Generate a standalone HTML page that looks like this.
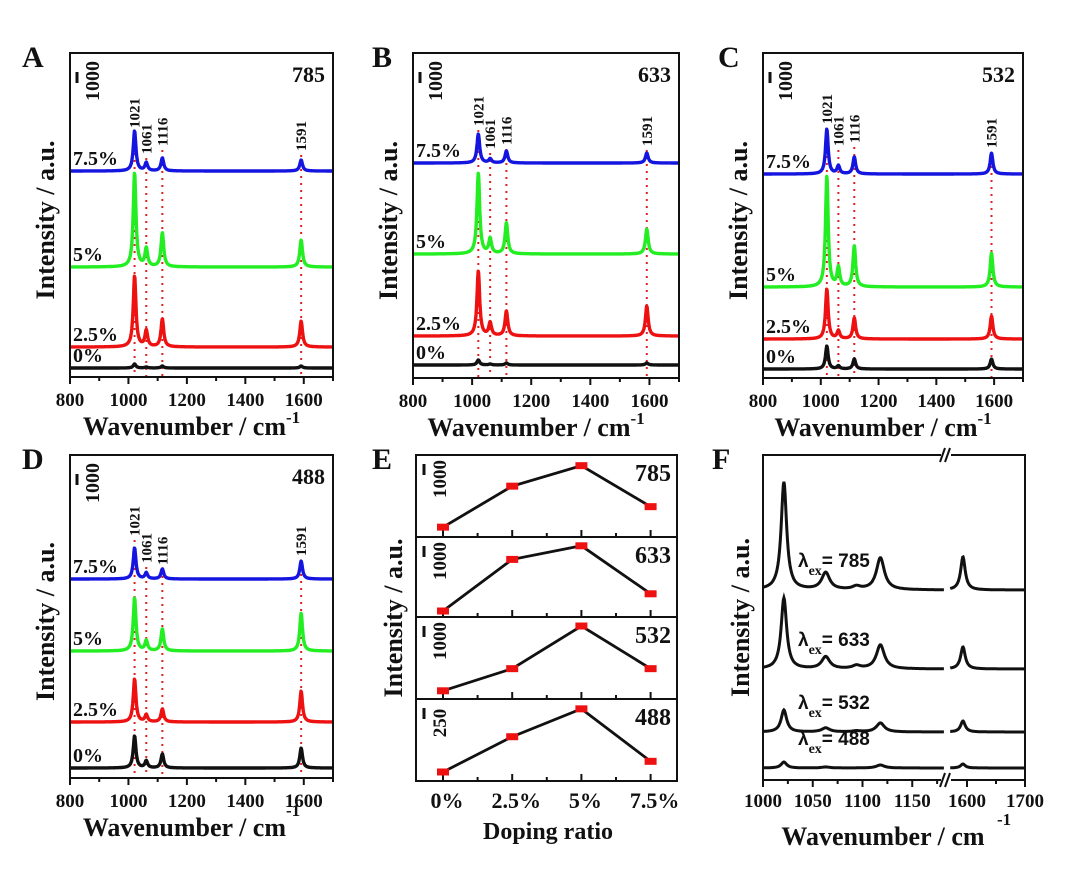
<!DOCTYPE html>
<html><head><meta charset="utf-8">
<style>
html,body{margin:0;padding:0;background:#fff;}
svg{display:block;}
text{font-family:"Liberation Serif",serif;font-weight:bold;fill:#111;}
.sans{font-family:"Liberation Sans",sans-serif;}
</style></head>
<body>
<svg id="fig" width="1080" height="885" viewBox="0 0 1080 885" xmlns="http://www.w3.org/2000/svg"></svg>
<script>
// ---------- DATA ----------
const peakPositions = [1021, 1061, 1116, 1591];
const dopingLabels = ["7.5%", "5%", "2.5%", "0%"];
const seriesColors = ["#1515e0", "#22ee22", "#ee1111", "#111111"];
// Panel A (785 nm): baselines (a.u., offset) and peak heights per doping
const baseA = [202, 106, 26, 5];
const peaksA = [[40, 8, 13, 11], [94, 18, 34, 27], [71, 16, 28, 26], [4, 1, 2, 2]];
// Panel B (633 nm)
const baseB = [211, 120, 38, 9];
const peaksB = [[29, 4, 12, 10], [81, 15, 31, 25], [65, 13, 25, 30], [5, 1, 2, 2]];
// Panel C (532 nm)
const baseC = [200, 87, 35, 5];
const peaksC = [[45, 8, 17, 21], [111, 19, 41, 34], [50, 8, 21, 23], [23, 3, 10, 10]];
// Panel D (488 nm)
const baseD = [195, 123, 52, 6];
const peaksD = [[31, 6, 10, 18], [53, 10, 22, 38], [43, 7, 13, 31], [32, 7, 14, 20]];
// Panel E: doping ratio vs intensity (relative, 0-100 per sub-panel)
const dopingCats = ["0%", "2.5%", "5%", "7.5%"];
const eLasers = ["785", "633", "532", "488"];
const eScaleLabels = ["1000", "1000", "1000", "250"];
const e785 = [12, 62, 87, 37];
const e633 = [7.5, 72, 89, 29];
const e532 = [10, 37, 89, 37];
const e488 = [11, 54, 88, 24];
// Panel F: excitation comparison, baseline + peak heights at 1021,1063,1094,1118,1593
const fPeakPos = [1021, 1063, 1094, 1118, 1593];
const fLasers = ["785", "633", "532", "488"];
const fBase = [178, 99, 36, 0];
const fPeaks = [[108, 17, 3, 32, 33], [71, 12, 3, 24, 22], [22, 4, 1, 9, 11], [6, 1, 0, 3, 4]];
const spectraTicks = [800, 1000, 1200, 1400, 1600];

// ---------- HELPERS ----------
const NS = "http://www.w3.org/2000/svg";
const svg = document.getElementById("fig");
function el(tag, attrs, parent, txt) {
  const e = document.createElementNS(NS, tag);
  for (const k in attrs) e.setAttribute(k, attrs[k]);
  if (txt !== undefined) e.textContent = txt;
  (parent || svg).appendChild(e);
  return e;
}
function lor(x, x0, h, w) { return h * w * w / ((x - x0) * (x - x0) + w * w); }

function spectraPanel(cfg) {
  const g = el("g", {});
  
  
  const {L, R, T, B} = cfg;
  const xs = v => L + (v - 800) / 900 * (R - L);
  const ys = v => B - 4 - v;
  const lt = el("text", {x: cfg.letterX, y: T + 14, "font-size": 30}, g, cfg.letter);
  
  
  peakPositions.forEach((p, i) => {
    const ln = el("line", {x1: xs(p), x2: xs(p), y1: cfg.labY[i] + 4, y2: B, stroke: "#e02020", "stroke-width": 2, "stroke-dasharray": "2 5"}, g);
    
    
    const t = el("text", {x: 0, y: 0, "font-size": 15, "font-weight": "normal", transform: `translate(${xs(p) + 5},${cfg.labY[i]}) rotate(-90)`}, g, String(p));
    
    
  });
  cfg.base.forEach((b, si) => {
    let d = "";
    for (let x = 800; x <= 1700; x += 1.5) {
      let y = b;
      peakPositions.forEach((p, k) => { y += lor(x, p, cfg.peaks[si][k], 5.5); });
      d += (d ? "L" : "M") + xs(x).toFixed(1) + "," + ys(y).toFixed(1);
    }
    const pth = el("path", {d: d, fill: "none", stroke: seriesColors[si], "stroke-width": 3.4, "stroke-linejoin": "round"}, g);
    
    
    const lb = el("text", {x: L + 3, y: ys(b) - 6, "font-size": 20, "font-weight": "normal"}, g, dopingLabels[si]);
    
    
  });
  const fr = el("rect", {x: L, y: T, width: R - L, height: B - T, fill: "none", stroke: "#111", "stroke-width": 2}, g);
  
  
  for (let v = 800; v <= 1700; v += 100) {
    el("line", {x1: xs(v), x2: xs(v), y1: B, y2: B + (v % 200 === 0 ? 7 : 4), stroke: "#111", "stroke-width": 2}, g);
  }
  spectraTicks.forEach(v => {
    const t = el("text", {x: xs(v), y: B + 29, "font-size": 19, "text-anchor": "middle"}, g, String(v));
    
    
  });
  const xt = el("text", {x: (L + R) / 2 - 10, y: B + 58, "font-size": 26, "text-anchor": "middle"}, g);
  
  
  el("tspan", {}, xt, "Wavenumber / cm");
  el("tspan", {dy: cfg.supDy, "font-size": 17}, xt, "-1");
  const yt = el("text", {x: 0, y: 0, "font-size": 26, "text-anchor": "middle", transform: `translate(${L - 16},${(T + B) / 2 + 5}) rotate(-90)`}, g, "Intensity / a.u.");
  
  
  const sb = el("line", {x1: L + 7, x2: L + 7, y1: T + 19, y2: T + 30, stroke: "#111", "stroke-width": 3}, g);
  
  
  const st = el("text", {x: 0, y: 0, "font-size": 20, "text-anchor": "middle", transform: `translate(${L + 29},${T + 28}) rotate(-90)`}, g, "1000");
  
  
  const lz = el("text", {x: R - 8, y: T + 29, "font-size": 22, "text-anchor": "end"}, g, cfg.laser);
  
  
}

spectraPanel({letter: "A", letterX: 22, L: 70, R: 333, T: 53, B: 377, base: baseA, peaks: peaksA, laser: "785", labY: [128, 154, 146, 151], supDy: -12});
spectraPanel({letter: "B", letterX: 372, L: 413, R: 679, T: 53, B: 378, base: baseB, peaks: peaksB, laser: "633", labY: [126, 149, 145, 146], supDy: -12});
spectraPanel({letter: "C", letterX: 718, L: 763, R: 1023, T: 53, B: 378, base: baseC, peaks: peaksC, laser: "532", labY: [124, 146, 143, 148], supDy: -12});
spectraPanel({letter: "D", letterX: 22, L: 70, R: 333, T: 455, B: 778, base: baseD, peaks: peaksD, laser: "488", labY: [536, 563, 565, 556], supDy: -20});

// ---------- PANEL E ----------
(function () {
  const g = el("g", {});
  
  
  const L = 416, R = 677, T = 455, B = 781;
  const bounds = [455, 537, 617, 699, 781];
  const xs = i => 443 + i * 69.2;
  const series = [e785, e633, e532, e488];
  el("text", {x: 372, y: T + 14, "font-size": 30}, g, "E");
  series.forEach((vals, si) => {
    const top = bounds[si], bot = bounds[si + 1];
    const ys = v => bot - v / 100 * (bot - top);
    const fr = el("rect", {x: L, y: top, width: R - L, height: bot - top, fill: "none", stroke: "#111", "stroke-width": 2}, g);
    
    
    for (let k = 0; k < 7; k++) {
      const x = 443 + k * 34.6;
      el("line", {x1: x, x2: x, y1: bot, y2: bot - (k % 2 === 0 ? 7 : 4), stroke: "#111", "stroke-width": 2}, g);
    }
    const pts = vals.map((v, i) => xs(i) + "," + ys(v)).join(" ");
    const pl = el("polyline", {points: pts, fill: "none", stroke: "#111", "stroke-width": 2.8}, g);
    
    
    vals.forEach((v, i) => {
      const m = el("rect", {x: xs(i) - 6, y: ys(v) - 3.5, width: 12, height: 7, fill: "#ee1111"}, g);
      
      
    });
    const lz = el("text", {x: R - 6, y: top + 26, "font-size": 24, "text-anchor": "end"}, g, eLasers[si]);
    
    
    el("line", {x1: L + 8, x2: L + 8, y1: top + 9, y2: top + 20, stroke: "#111", "stroke-width": 3}, g);
    const st = el("text", {x: 0, y: 0, "font-size": 19, "text-anchor": "middle", transform: `translate(${L + 30},${top + 24}) rotate(-90)`}, g, eScaleLabels[si]);
    
    
  });
  dopingCats.forEach((c, i) => {
    const t = el("text", {x: xs(i) + 4, y: B + 27, "font-size": 22, "text-anchor": "middle"}, g, c);
    
    
  });
  const xt = el("text", {x: 548, y: B + 58, "font-size": 24, "text-anchor": "middle"}, g, "Doping ratio");
  
  
  const yt = el("text", {x: 0, y: 0, "font-size": 26, "text-anchor": "middle", transform: `translate(402,${(T + B) / 2}) rotate(-90)`}, g, "Intensity / a.u.");
  
  
})();

// ---------- PANEL F ----------
(function () {
  const g = el("g", {});
  
  
  const L = 763, R = 1025, T = 455, B = 780;
  const xL = v => L + (v - 1000) * 0.995;
  const xR = v => 967 + (v - 1600) * 0.58;
  const ys = v => 768 - v;
  el("text", {x: 712, y: T + 14, "font-size": 30}, g, "F");
  fBase.forEach((b, si) => {
    const segs = [[1000, 1182, xL], [1571, 1700, xR]];
    segs.forEach(([a, z, f]) => {
      let d = "";
      for (let x = a; x <= z; x += 0.6) {
        let y = b;
        fPeakPos.forEach((p, k) => { y += lor(x, p, fPeaks[si][k], k === 0 ? 3.3 : 4.8); });
        d += (d ? "L" : "M") + f(x).toFixed(1) + "," + ys(y).toFixed(1);
      }
      const pth = el("path", {d: d, fill: "none", stroke: "#111", "stroke-width": 3}, g);
      
      
    });
    const lbl = el("text", {x: 798, y: ys(b) - 23, "font-size": 19, "class": "sans"}, g);
    
    
    el("tspan", {"class": "sans"}, lbl, "λ");
    el("tspan", {dy: 8, "font-size": 14, style: "font-family:'Liberation Serif',serif"}, lbl, "ex");
    el("tspan", {dy: -8, "class": "sans"}, lbl, "= " + fLasers[si]);
  });
  const fr = el("rect", {x: L, y: T, width: R - L, height: B - T, fill: "none", stroke: "#111", "stroke-width": 2}, g);
  
  
  [T, B].forEach(y => {
    el("rect", {x: 941, y: y - 4, width: 10, height: 8, fill: "#fff"}, g);
    el("line", {x1: 940, x2: 945, y1: y + 7, y2: y - 7, stroke: "#111", "stroke-width": 2}, g);
    el("line", {x1: 945, x2: 950, y1: y + 7, y2: y - 7, stroke: "#111", "stroke-width": 2}, g);
  });
  const tickL = [1000, 1050, 1100, 1150];
  for (let v = 1000; v <= 1175; v += 25) {
    el("line", {x1: xL(v), x2: xL(v), y1: B, y2: B + (v % 50 === 0 ? 7 : 4), stroke: "#111", "stroke-width": 2}, g);
  }
  [1600, 1650, 1700].forEach(v => el("line", {x1: xR(v), x2: xR(v), y1: B, y2: B + (v % 100 === 0 ? 7 : 4), stroke: "#111", "stroke-width": 2}, g));
  tickL.forEach(v => {
    const t = el("text", {x: xL(v), y: B + 27, "font-size": 19, "text-anchor": "middle"}, g, String(v));
    
    
  });
  [1600, 1700].forEach(v => {
    const t = el("text", {x: xR(v), y: B + 27, "font-size": 19, "text-anchor": "middle"}, g, String(v));
    
    
  });
  const xt = el("text", {x: 883, y: B + 65, "font-size": 26, "text-anchor": "middle"}, g, "Wavenumber / cm");
  
  
  el("text", {x: 997, y: B + 45, "font-size": 17}, g, "-1");
  const yt = el("text", {x: 0, y: 0, "font-size": 26, "text-anchor": "middle", transform: `translate(749,${(T + B) / 2}) rotate(-90)`}, g, "Intensity / a.u.");
  
  
})();
</script>
</body></html>
